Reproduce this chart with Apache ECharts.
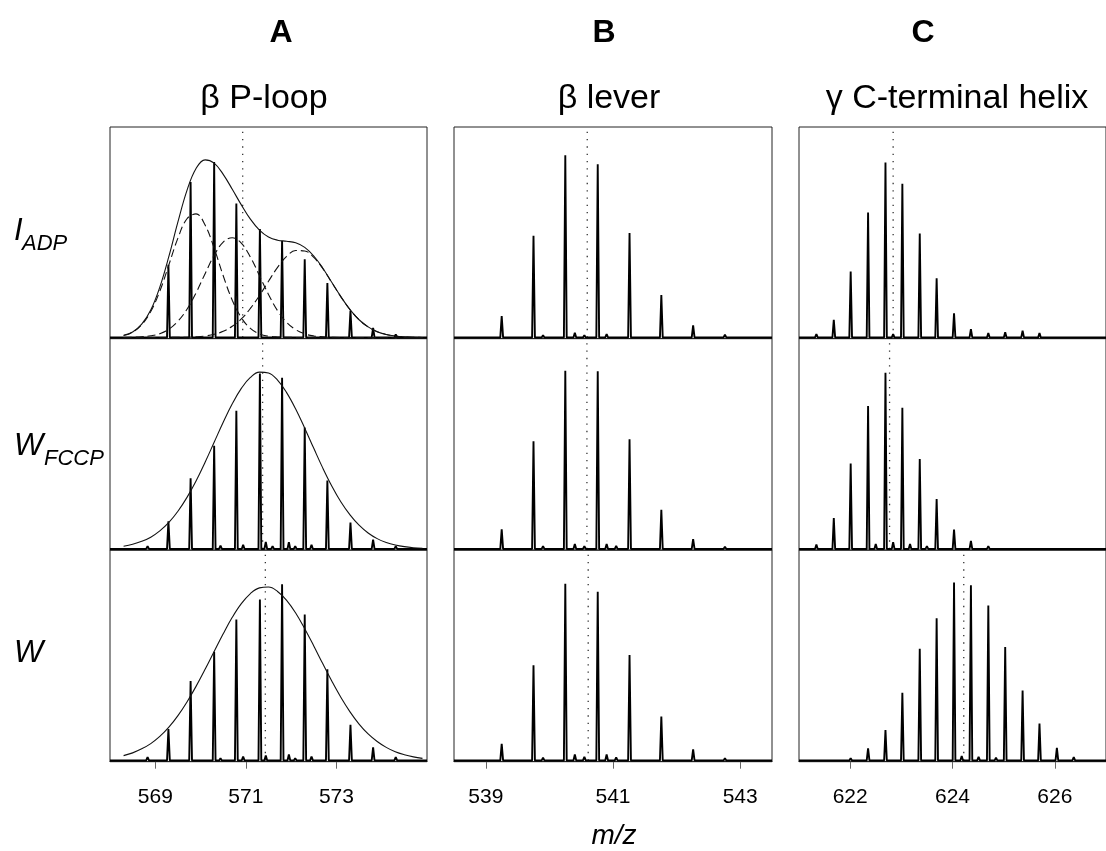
<!DOCTYPE html>
<html><head><meta charset="utf-8">
<script src="https://cdn.jsdelivr.net/npm/echarts@6/dist/echarts.min.js"></script>
<style>html,body{margin:0;padding:0;background:#fff}#c{width:1106px;height:851px}</style>
</head><body><div id="c"></div>
<script>
// ---------- text ----------
const columnTitles = ['A', 'B', 'C'];
const regionNames = ['\u03B2 P-loop', '\u03B2 lever', '\u03B3 C-terminal helix'];
const stateMain = ['I', 'W', 'W'];
const stateSub = ['ADP', 'FCCP', ''];
const axisName = 'm/z';

// ---------- x axes (m/z) ----------
const rangeA = [568, 575];
const rangeB = [538.5, 543.5];
const rangeC = [621, 627];
const ticksA = [569, 571, 573];
const ticksB = [539, 541, 543];
const ticksC = [622, 624, 626];

// ---------- column A: beta P-loop (z = 2) ----------
const mzA = [568.83, 569.29, 569.78, 570.30, 570.79, 571.31, 571.80, 572.30, 572.80, 573.31, 573.81, 574.31, 574.82];
const intA1 = [0.3, 34.5, 73.9, 83.4, 63.7, 51.5, 45.8, 37.2, 25.8, 12.7, 4.5, 1.4, 0.5];
const intA2 = [1.3, 13.1, 33.6, 49.0, 65.7, 83.4, 81.4, 57.7, 32.5, 12.5, 4.4, 1.3, 0.3];
const intA3 = [1.6, 14.9, 37.8, 51.7, 67.0, 76.5, 83.7, 69.4, 43.3, 16.9, 6.2, 1.6, 0.6];
const mzAminor = [569.94, 570.44, 570.94, 571.44, 571.59, 571.95, 572.09, 572.45, 572.95];
const intA1minor = [0.6, 0.8, 0.5, 0.3, 0.0, 0.3, 0.0, 0.2, 0.0];
const intA2minor = [0.6, 1.6, 2.0, 3.3, 1.3, 3.2, 1.3, 2.0, 0.5];
const intA3minor = [0.5, 1.0, 1.9, 2.4, 0.8, 2.8, 1.1, 1.9, 0.8];

const envX = [568.3, 568.5, 568.7, 568.9, 569.1, 569.3, 569.5, 569.7, 569.9, 570.1, 570.3, 570.5, 570.7, 570.9, 571.1, 571.3, 571.5,
  571.7, 571.9, 572.1, 572.3, 572.5, 572.7, 572.9, 573.1, 573.3, 573.5, 573.7, 573.9, 574.1, 574.3, 574.5, 574.7, 574.9];
const envA1 = [1.0, 2.6, 6.3, 13.0, 23.9, 38.5, 54.9, 69.9, 80.3, 84.4, 82.8, 77.5, 70.4, 63.0, 56.2, 51.0, 47.7,
  46.2, 45.7, 45.0, 42.8, 38.7, 32.9, 26.1, 19.3, 13.2, 8.4, 5.0, 2.7, 1.4, 0.7, 0.3, 0.1, 0.0];
const compA1a = [0.9, 2.5, 6.0, 12.3, 22.0, 34.5, 47.2, 56.4, 58.7, 53.4, 42.4, 29.3, 17.7, 9.4, 4.3, 1.7, 0.6,
  0.2, 0.1, 0, 0, 0, 0, 0, 0, 0, 0, 0, 0, 0, 0, 0, 0, 0];
const compA1b = [0.0, 0.1, 0.3, 0.8, 1.8, 3.9, 7.7, 13.4, 21.2, 30.3, 39.0, 45.3, 47.4, 44.8, 38.2, 29.4, 20.4,
  12.7, 7.2, 3.7, 1.7, 0.7, 0.3, 0.1, 0.0, 0, 0, 0, 0, 0, 0, 0, 0, 0];
const compA1c = [0, 0, 0, 0, 0, 0, 0.1, 0.1, 0.3, 0.7, 1.5, 2.9, 5.3, 8.8, 13.8, 19.9, 26.7,
  33.3, 38.5, 41.3, 41.1, 38.0, 32.7, 26.0, 19.3, 13.2, 8.4, 5.0, 2.7, 1.4, 0.7, 0.3, 0.1, 0.0];
const envA2 = [1.3, 2.2, 3.6, 5.6, 8.6, 12.6, 17.9, 24.5, 32.3, 41.2, 50.7, 60.2, 69.0, 76.3, 81.5, 84.0, 83.6,
  80.2, 74.3, 66.5, 57.4, 47.8, 38.4, 29.8, 22.3, 16.2, 11.3, 7.6, 4.9, 3.1, 1.9, 1.1, 0.6, 0.3];
const envA3 = [2.3, 3.6, 5.5, 8.0, 11.4, 15.8, 21.3, 27.8, 35.2, 43.3, 51.8, 60.2, 68.0, 74.5, 79.3, 82.0, 82.4,
  80.3, 76.1, 70.1, 62.6, 54.4, 45.9, 37.6, 29.9, 23.1, 17.3, 12.6, 9.0, 6.2, 4.1, 2.7, 1.7, 1.0];

// ---------- column B: beta lever (z = 2) ----------
const mzB = [539.25, 539.75, 540.25, 540.76, 541.26, 541.76, 542.26, 542.76, 543.27];
const intB1 = [10.1, 48.3, 86.6, 82.3, 49.6, 20.2, 5.7, 1.3, 0.3];
const intB2 = [9.3, 51.2, 84.7, 84.4, 52.1, 18.6, 4.7, 1.1, 0.3];
const intB3 = [7.9, 45.2, 83.9, 80.1, 50.1, 20.9, 5.2, 1.1, 0.3];
const mzBminor = [539.90, 540.06, 540.40, 540.55, 540.90, 541.05, 541.41, 541.55];
const intB1minor = [1.1, 0.5, 2.2, 1.1, 1.6, 0.9, 0.5, 0.3];
const intB2minor = [1.3, 0.5, 2.4, 1.3, 2.4, 1.4, 0.8, 0.6];
const intB3minor = [1.3, 0.5, 2.8, 1.7, 2.8, 1.4, 0.9, 0.8];

// ---------- column C: gamma C-terminal helix (z = 3) ----------
const mzC = [621.34, 621.68, 622.01, 622.35, 622.69, 623.02, 623.36, 623.69, 624.03, 624.36, 624.70, 625.03, 625.37, 625.70, 626.04, 626.37, 626.71];
const intC1 = [1.6, 8.4, 31.3, 59.4, 83.1, 73.0, 49.4, 28.1, 11.5, 3.9, 2.1, 2.5, 3.2, 2.1, 0.9, 0.3, 0.2];
const intC2 = [2.1, 14.7, 40.6, 67.9, 83.7, 67.1, 42.7, 23.7, 9.2, 3.8, 1.3, 0.9, 0.8, 0.5, 0.3, 0.2, 0.0];
const intC3 = [0.0, 0.3, 1.1, 5.8, 14.5, 32.2, 53.1, 67.6, 84.5, 83.3, 73.6, 53.9, 33.2, 17.5, 6.0, 1.6, 0.5];
const mzCminor = [622.17, 622.50, 622.84, 623.17, 623.50, 623.84, 624.18, 624.51, 624.85];
const intC1minor = [0.3, 0.8, 1.6, 0.9, 0.6, 0.0, 0.0, 0.0, 0.0];
const intC2minor = [0.8, 2.4, 3.2, 2.4, 1.3, 0.5, 0.0, 0.0, 0.0];
const intC3minor = [0.0, 0.0, 0.0, 0.0, 0.3, 0.8, 2.1, 1.7, 1.3];

// ---------- centroid (dotted) positions, rows I_ADP, W_FCCP, W ----------
const centroidA = [570.93, 571.37, 571.43];
const centroidB = [540.595, 540.59, 540.61];
const centroidC = [622.84, 622.77, 624.22];

// ---------- layout (style only) ----------
const FONT = '"Liberation Sans", Arial, Helvetica, sans-serif';
const colLeft = [110, 454, 799];
const colWidth = [317, 318, 318];
const rowTop = [127, 338.5, 550];
const rowH = 211.7;
const yMin = -0.6, yMax = 100;

const columns = [
  { range: rangeA, ticks: ticksA, mz: mzA, ints: [intA1, intA2, intA3], mzMin: mzAminor, intsMin: [intA1minor, intA2minor, intA3minor], cent: centroidA },
  { range: rangeB, ticks: ticksB, mz: mzB, ints: [intB1, intB2, intB3], mzMin: mzBminor, intsMin: [intB1minor, intB2minor, intB3minor], cent: centroidB },
  { range: rangeC, ticks: ticksC, mz: mzC, ints: [intC1, intC2, intC3], mzMin: mzCminor, intsMin: [intC1minor, intC2minor, intC3minor], cent: centroidC }
];

function profile(mz, inten, mzMinor, intMinor, range, hw) {
  const pk = [];
  mz.forEach((m, i) => pk.push([m, inten[i]]));
  mzMinor.forEach((m, i) => { if (intMinor[i] > 0) pk.push([m, intMinor[i]]); });
  pk.sort((a, b) => a[0] - b[0]);
  const pts = [[range[0], 0]];
  pk.forEach(([m, h]) => { pts.push([m - hw, 0], [m, h], [m + hw, 0]); });
  pts.push([range[1], 0]);
  return pts;
}
const pairs = (xs, ys) => xs.map((x, i) => [x, ys[i]]);

const grids = [], xAxes = [], yAxes = [], series = [];
for (let r = 0; r < 3; r++) {
  for (let c = 0; c < 3; c++) {
    const i = r * 3 + c;
    const col = columns[c];
    const bottom = r === 2;
    grids.push({ left: colLeft[c], top: rowTop[r], width: colWidth[c], height: rowH,
      show: true, borderColor: '#222', borderWidth: 1, backgroundColor: 'transparent' });
    xAxes.push({
      gridIndex: i, type: 'value', min: col.range[0], max: col.range[1],
      axisLine: { show: bottom, onZero: false, lineStyle: { color: '#222', width: 1 } },
      axisTick: { show: bottom, length: 7, customValues: col.ticks, lineStyle: { color: '#666', width: 1 } },
      axisLabel: { show: bottom, customValues: col.ticks, margin: 25, fontSize: 21, color: '#000', fontFamily: FONT },
      splitLine: { show: false }
    });
    yAxes.push({ gridIndex: i, type: 'value', min: yMin, max: yMax, show: false, splitLine: { show: false } });

    const hw = 1.4 * (col.range[1] - col.range[0]) / colWidth[c];
    series.push({
      type: 'line', xAxisIndex: i, yAxisIndex: i, showSymbol: false, silent: true, z: 3,
      data: profile(col.mz, col.ints[r], col.mzMin, col.intsMin[r], col.range, hw),
      lineStyle: { color: '#000', width: 1.9 }
    });
    series.push({
      type: 'line', xAxisIndex: i, yAxisIndex: i, showSymbol: false, silent: true, z: 2,
      data: [[col.cent[r], 0], [col.cent[r], 98]],
      lineStyle: { color: '#333', width: 1.3, type: [1.3, 6] }
    });
  }
}
// envelopes in column A
const envSets = [
  { g: 0, y: envA1, dash: false }, { g: 0, y: compA1a, dash: true }, { g: 0, y: compA1b, dash: true }, { g: 0, y: compA1c, dash: true },
  { g: 3, y: envA2, dash: false }, { g: 6, y: envA3, dash: false }
];
envSets.forEach(e => series.push({
  type: 'line', xAxisIndex: e.g, yAxisIndex: e.g, showSymbol: false, silent: true, smooth: 0.4, z: 4,
  data: pairs(envX, e.y),
  lineStyle: { color: '#111', width: 1.1, type: e.dash ? [8, 4] : 'solid' }
}));

// ---------- text graphics ----------
const titleX = [281, 604, 923];
const regionX = [264, 609, 957];
const labelY = [231, 446, 653];
const graphic = [];
const txt = (x, y, text, size, opts) => Object.assign({
  type: 'text', x: x, y: y, silent: true,
  style: Object.assign({ text: text, fontSize: size, fontFamily: FONT, fill: '#000',
    align: 'center', verticalAlign: 'middle', textAlign: 'center', textVerticalAlign: 'middle' }, opts || {})
});
for (let c = 0; c < 3; c++) {
  graphic.push(txt(titleX[c], 33, columnTitles[c], 32, { fontWeight: 'bold' }));
  graphic.push(txt(regionX[c], 99, regionNames[c], 34));
}
const mainW = [8, 30, 30];
for (let r = 0; r < 3; r++) {
  graphic.push(txt(14, labelY[r], stateMain[r], 31, { fontStyle: 'italic', align: 'left', textAlign: 'left' }));
  if (stateSub[r]) {
    graphic.push(txt(14 + mainW[r], labelY[r] + 13, stateSub[r], 22, { fontStyle: 'italic', align: 'left', textAlign: 'left' }));
  }
}
graphic.push(txt(614, 836, axisName, 28, { fontStyle: 'italic' }));

const chart = echarts.init(document.getElementById('c'), null, { renderer: 'canvas' });
chart.setOption({
  animation: false,
  backgroundColor: '#fff',
  grid: grids, xAxis: xAxes, yAxis: yAxes, series: series,
  graphic: graphic
});
</script></body></html>
